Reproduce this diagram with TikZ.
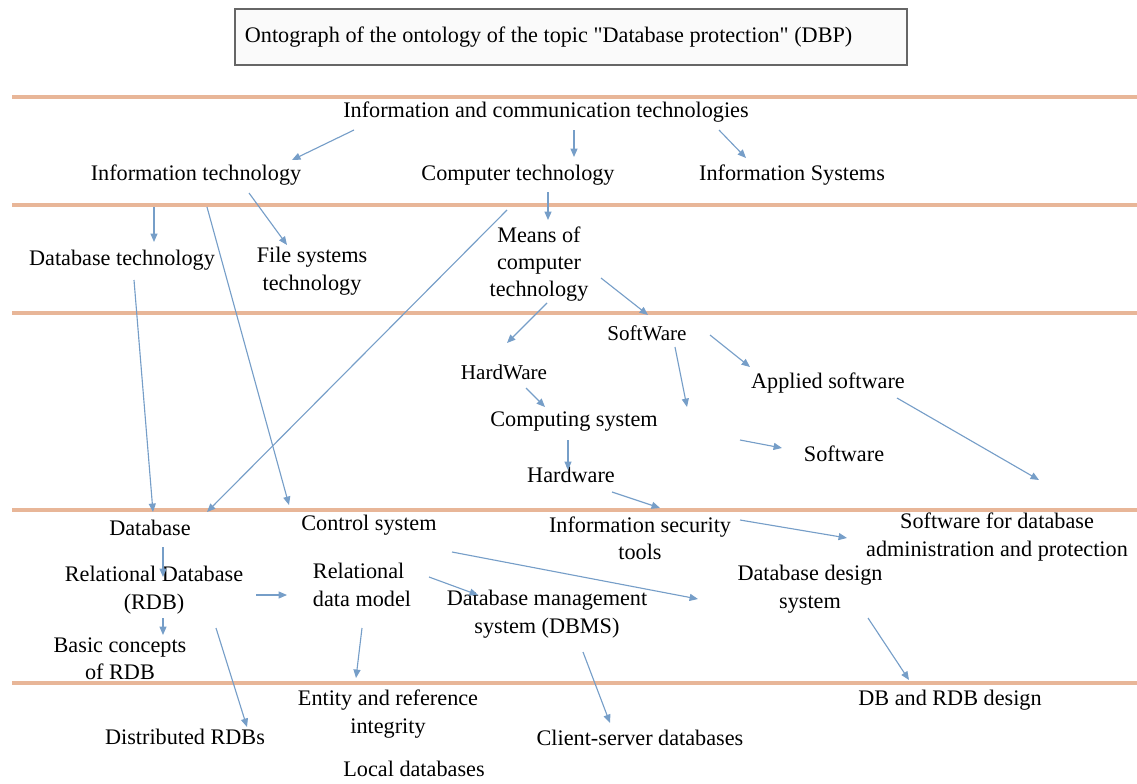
\documentclass[tikz,border=0pt]{standalone}
\usepackage{fontspec}
\setmainfont{Liberation Serif}[Ligatures=TeXOff]
\usepackage{xcolor}
\usepackage{tikz}
\usetikzlibrary{arrows.meta}

\definecolor{arrowblue}{RGB}{118,158,200}
\definecolor{bandline}{RGB}{232,182,152}

\begin{document}
\begin{tikzpicture}[x=0.025cm,y=-0.025cm,
  concept/.style={align=center,inner sep=1pt,font=\fontsize{15.8}{19.5}\selectfont},
  arr/.style={draw=arrowblue,line width=0.8pt,-{Triangle[length=6pt,width=5pt]}},
  sepline/.style={draw=bandline,line width=2.2pt}]

\useasboundingbox (0,0) rectangle (1137,783);

% title box
\node[draw=gray!80!black,line width=1.2pt,fill=gray!4,minimum width=16.8cm,minimum height=1.4cm,
  inner sep=0.25cm,font=\fontsize{15.8}{19.5}\selectfont]
  (title) at (571,37) {\makebox[16.3cm][l]{Ontograph of the ontology of the topic "Database protection" (DBP)}};

% level lines
\foreach \y in {97,205,313,510,683}
  \draw[sepline] (12,\y) -- (1137,\y);

\node[concept] (ICT) at (546,112) {Information and communication technologies};
\node[concept] (IT) at (196,175) {Information technology};
\node[concept] (CT) at (518,175) {Computer technology};
\node[concept] (IS) at (792,175) {Information Systems};

\node[concept] (DBT) at (122,260) {Database technology};
\node[concept] (FST) at (312,271) {File systems\\technology};
\node[concept] (MCT) at (539,264) {Means of\\computer\\technology};

\node[concept,font=\fontsize{15}{18}\selectfont] (SW) at (647,333) {SoftWare};
\node[concept,font=\fontsize{15}{18}\selectfont] (HW) at (504,372) {HardWare};
\node[concept] (AS) at (828,383) {Applied software};
\node[concept] (CS) at (574,422) {Computing system};
\node[concept] (Soft) at (844,454) {Software};
\node[concept] (Hard) at (571,475) {Hardware};

\node[concept] (DB) at (150,528) {Database};
\node[concept] (CtrlS) at (369,525) {Control system};
\node[concept] (IST) at (640,538) {Information security\\tools};
\node[concept] (SDAP) at (997,537) {Software for database\\administration and protection};
\node[concept] (RDB) at (154,590) {Relational Database\\(RDB)};
\node[concept,align=left] (RDM) at (362,585) {Relational\\data model};
\node[concept] (DBMS) at (547,614) {Database management\\system (DBMS)};
\node[concept] (DDS) at (810,589) {Database design\\system};
\node[concept] (BCR) at (120,659) {Basic concepts\\of RDB};

\node[concept] (ERI) at (388,714) {Entity and reference\\integrity};
\node[concept] (DRDB) at (185,737) {Distributed RDBs};
\node[concept] (LD) at (414,769) {Local databases};
\node[concept] (CSD) at (640,738) {Client-server databases};
\node[concept] (DBRDB) at (950,700) {DB and RDB design};

\coordinate (swEnd) at (687,407);
\coordinate (softStart) at (740,440);

% connectors
\draw[arr] ([shift={(-192,18)}]ICT.center) -- ([shift={(96,-15)}]IT.center);
\draw[arr] ([shift={(28,18)}]ICT.center) -- ([shift={(56,-18)}]CT.center);
\draw[arr] ([shift={(173,18)}]ICT.center) -- ([shift={(-46,-17)}]IS.center);
\draw[arr] ([shift={(-42,32)}]IT.center) -- ([shift={(32,-18)}]DBT.center);
\draw[arr] ([shift={(53,18)}]IT.center) -- ([shift={(-25,-26)}]FST.center);
\draw[arr] ([shift={(11,32)}]IT.center) -- ([shift={(-80,-20)}]CtrlS.center);
\draw[arr] ([shift={(12,20)}]DBT.center) -- ([shift={(3,-16)}]DB.center);
\draw[arr] ([shift={(-11,35)}]CT.center) -- ([shift={(57,-16)}]DB.center);
\draw[arr] ([shift={(30,17)}]CT.center) -- ([shift={(9,-44)}]MCT.center);
\draw[arr] ([shift={(8,39)}]MCT.center) -- ([shift={(3,-29)}]HW.center);
\draw[arr] ([shift={(62,14)}]MCT.center) -- ([shift={(1,-18)}]SW.center);
\draw[arr] ([shift={(63,2)}]SW.center) -- ([shift={(-78,-16)}]AS.center);
\draw[arr] ([shift={(28,14)}]SW.center) -- (swEnd);
\draw[arr] (softStart) -- ([shift={(-62,-6)}]Soft.center);
\draw[arr] ([shift={(22,16)}]HW.center) -- ([shift={(-29,-15)}]CS.center);
\draw[arr] ([shift={(-6,18)}]CS.center) -- ([shift={(-3,-5)}]Hard.center);
\draw[arr] ([shift={(41,17)}]Hard.center) -- ([shift={(20,-30)}]IST.center);
\draw[arr] ([shift={(100,-18)}]IST.center) -- ([shift={(-150,1)}]SDAP.center);
\draw[arr] ([shift={(69,15)}]AS.center) -- ([shift={(42,-57)}]SDAP.center);
\draw[arr] ([shift={(13,19)}]DB.center) -- ([shift={(9,-13)}]RDB.center);
\draw[arr] ([shift={(9,28)}]RDB.center) -- ([shift={(43,-24)}]BCR.center);
\draw[arr] ([shift={(102,5)}]RDB.center) -- ([shift={(-75,10)}]RDM.center);
\draw[arr] ([shift={(62,38)}]RDB.center) -- ([shift={(62,-10)}]DRDB.center);
\draw[arr] ([shift={(83,27)}]CtrlS.center) -- ([shift={(-112,10)}]DDS.center);
\draw[arr] ([shift={(67,-8)}]RDM.center) -- ([shift={(-69,-19)}]DBMS.center);
\draw[arr] ([shift={(0,43)}]RDM.center) -- ([shift={(-32,-36)}]ERI.center);
\draw[arr] ([shift={(36,38)}]DBMS.center) -- ([shift={(-30,-15)}]CSD.center);
\draw[arr] ([shift={(58,29)}]DDS.center) -- ([shift={(-41,-20)}]DBRDB.center);

\end{tikzpicture}
\end{document}
